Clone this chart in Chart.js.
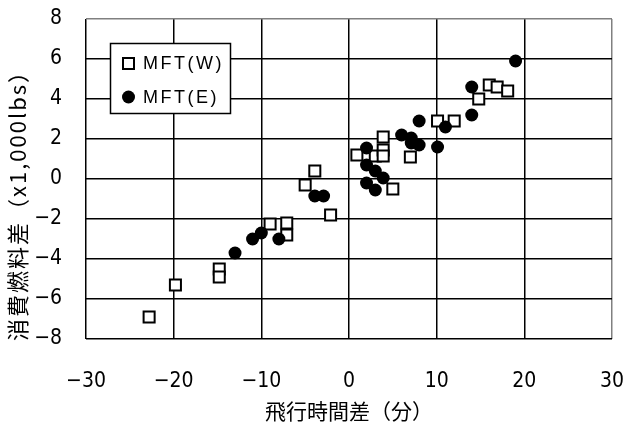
<!DOCTYPE html>
<html>
<head>
<meta charset="utf-8">
<script src="https://cdn.jsdelivr.net/npm/chart.js@4.4.1/dist/chart.umd.min.js"></script>
<style>
  html, body { margin: 0; padding: 0; background: #fff; }
  #wrap { width: 624px; height: 425px; position: relative; }
</style>
</head>
<body>
<div id="wrap"><canvas id="c" width="624" height="425"></canvas></div>
<script>
// 飛行時間差(分) vs 消費燃料差(x1,000lbs)
const seriesNames = ['MFT(W)', 'MFT(E)'];

const mftWTime = [-22.8, -19.8, -14.8, -14.8, -9.0, -7.1, -7.1, -5.0, -3.9, -2.1,
                  0.9, 3.0, 3.9, 3.9, 3.9, 5.0, 7.0, 10.1, 12.0, 14.8, 16.0, 16.9, 18.1];
const mftWFuel = [-6.9, -5.3, -4.5, -4.9, -2.25, -2.2, -2.8, -0.3, 0.4, -1.8,
                  1.2, 1.15, 2.1, 1.45, 1.15, -0.5, 1.1, 2.9, 2.9, 4.0, 4.7, 4.6, 4.4];

const mftETime = [-13.0, -11.0, -10.0, -8.0, -3.9, -2.9, 2.0, 2.0, 2.0, 3.0, 3.0,
                  3.9, 6.0, 7.1, 7.1, 8.0, 8.0, 10.1, 11.0, 14.0, 14.0, 19.0];
const mftEFuel = [-3.7, -3.0, -2.7, -3.0, -0.85, -0.85, 1.55, 0.7, -0.2, 0.4, -0.55,
                  0.05, 2.2, 2.05, 1.8, 1.7, 2.9, 1.6, 2.6, 3.2, 4.6, 5.9];

const xTicks = [-30, -20, -10, 0, 10, 20, 30];
const yTicks = [-8, -6, -4, -2, 0, 2, 4, 6, 8];
const xTitle = '飛行時間差（分）';
const yTitle = '消費燃料差（x1,000lbs）';

const toPoints = (xs, ys) => xs.map((x, i) => ({ x: x, y: ys[i] }));
const minus = v => (v < 0 ? '\u2212' + Math.abs(v) : String(v));

const tickFont = { family: "'DejaVu Sans Condensed', 'Liberation Sans', sans-serif", size: 21 };

// keep the plot rectangle fixed: no extra room reserved for edge labels
function fixScale(s, size) {
  if (s.isHorizontal()) s.height = size; else s.width = size;
  s.paddingTop = 0; s.paddingBottom = 0; s.paddingLeft = 0; s.paddingRight = 0;
}

// axis titles and the boxed legend inside the plot
const decorations = {
  id: 'decorations',
  afterDraw(chart) {
    const ctx = chart.ctx;
    const area = chart.chartArea;
    ctx.save();
    ctx.fillStyle = '#000';
    ctx.textAlign = 'center';
    ctx.textBaseline = 'middle';
    ctx.font = "21px 'Noto Sans CJK JP', sans-serif";
    ctx.fillText(xTitle, (area.left + area.right) / 2, 411);
    ctx.translate(18, 200);
    ctx.rotate(-Math.PI / 2);
    ctx.font = "22px 'Noto Sans CJK JP', sans-serif";
    if ('letterSpacing' in ctx) ctx.letterSpacing = '2px';
    ctx.fillText(yTitle, 0, 0);
    ctx.restore();

    // legend box
    ctx.save();
    const bx = 110.5, by = 43.5, bw = 120, bh = 70;
    ctx.fillStyle = '#fff';
    ctx.fillRect(bx, by, bw, bh);
    ctx.strokeStyle = '#000';
    ctx.lineWidth = 1.5;
    ctx.strokeRect(bx, by, bw, bh);

    const ds = chart.data.datasets;
    const rows = [63.5, 97];
    ctx.font = "18px 'Liberation Sans', Arial, sans-serif";
    if ('letterSpacing' in ctx) ctx.letterSpacing = '2.5px';
    ctx.textAlign = 'left';
    ctx.textBaseline = 'middle';
    ds.forEach((d, i) => {
      const cy = rows[i];
      const cx = 128.5;
      ctx.beginPath();
      if (d.pointStyle === 'rect') {
        ctx.rect(cx - 5.5, cy - 5.5, 11, 11);
        ctx.fillStyle = d.backgroundColor;
        ctx.fill();
        ctx.lineWidth = d.borderWidth;
        ctx.strokeStyle = d.borderColor;
        ctx.stroke();
      } else {
        ctx.arc(cx, cy, d.pointRadius, 0, Math.PI * 2);
        ctx.fillStyle = d.backgroundColor;
        ctx.fill();
      }
      ctx.fillStyle = '#000';
      ctx.fillText(d.label, 143, cy + 1);
    });
    ctx.restore();
  }
};

new Chart(document.getElementById('c'), {
  type: 'scatter',
  data: {
    datasets: [
      {
        label: seriesNames[0],
        data: toPoints(mftWTime, mftWFuel),
        pointStyle: 'rect',
        pointRadius: 7.8,
        pointHoverRadius: 7.8,
        backgroundColor: '#fff',
        borderColor: '#000',
        borderWidth: 2,
        order: 1
      },
      {
        label: seriesNames[1],
        data: toPoints(mftETime, mftEFuel),
        pointStyle: 'circle',
        pointRadius: 6.5,
        pointHoverRadius: 6.5,
        backgroundColor: '#000',
        borderColor: '#000',
        borderWidth: 0,
        order: 0
      }
    ]
  },
  options: {
    responsive: false,
    animation: false,
    layout: { padding: { left: 0, top: 19, right: 12, bottom: 0 } },
    plugins: {
      legend: { display: false },
      tooltip: { enabled: false }
    },
    scales: {
      x: {
        type: 'linear',
        min: xTicks[0],
        max: xTicks[xTicks.length - 1],
        afterBuildTicks: s => { s.ticks = xTicks.map(v => ({ value: v })); },
        afterFit: s => fixScale(s, 86),
        border: { display: false },
        grid: {
          color: c => (c.tick && c.tick.value === 30 ? '#808080' : '#000'),
          lineWidth: 1.5,
          drawTicks: false
        },
        ticks: {
          color: '#000',
          font: tickFont,
          padding: 30,
          maxRotation: 0,
          callback: v => minus(v)
        }
      },
      y: {
        type: 'linear',
        min: yTicks[0],
        max: yTicks[yTicks.length - 1],
        afterBuildTicks: s => { s.ticks = yTicks.map(v => ({ value: v })); },
        afterFit: s => fixScale(s, 86),
        border: { display: false },
        grid: {
          color: c => (c.tick && c.tick.value === 8 ? '#808080' : '#000'),
          lineWidth: 1.5,
          drawTicks: false
        },
        ticks: {
          color: '#000',
          font: tickFont,
          padding: 24,
          callback: v => minus(v)
        }
      }
    }
  },
  plugins: [decorations]
});
</script>
</body>
</html>
